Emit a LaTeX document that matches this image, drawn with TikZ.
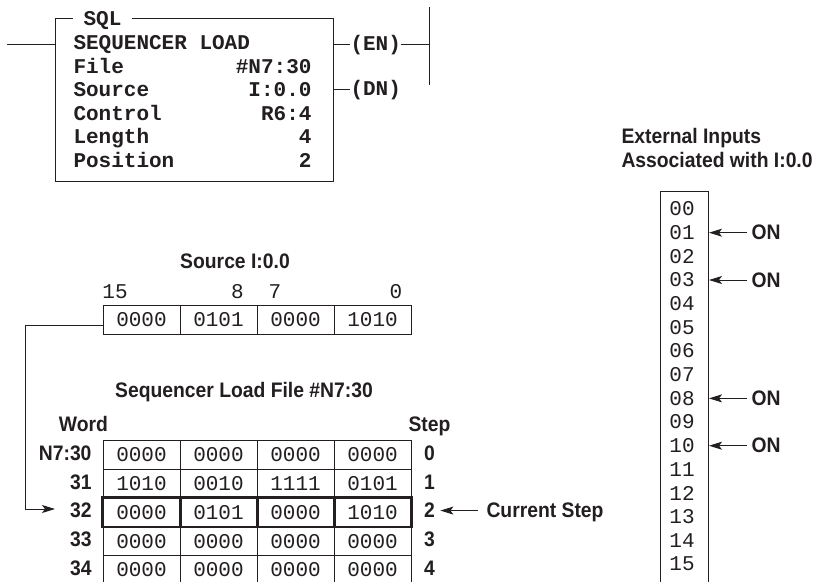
\documentclass[tikz,border=0pt]{standalone}
\usepackage{fontspec}
\setmonofont{Liberation Mono}
\newfontfamily\condb[FakeStretch=0.92]{Liberation Sans}
\usetikzlibrary{arrows.meta,calc}
\definecolor{ink}{HTML}{231F20}
\begin{document}
\begin{tikzpicture}[x=1pt,y=-1pt,line width=1pt,draw=ink,text=ink,
  mb/.style={font=\fontsize{21}{21}\selectfont\ttfamily\bfseries, inner sep=0pt},
  mr/.style={font=\fontsize{21}{21}\selectfont\ttfamily, inner sep=0pt},
  sb/.style={font=\fontsize{21}{21}\selectfont\condb\bfseries, inner sep=0pt},
  cell/.style={draw, minimum width=77pt, minimum height=28.7pt, inner sep=0pt, mr},
  arr/.style={-{Stealth[length=13pt,width=8pt,inset=3pt]}}]
\useasboundingbox (0,0) rectangle (818,581);
\clip (0,0) rectangle (818,581);
\fill[white] (0,0) rectangle (818,581);

% ---- SQL instruction box ----
\node[draw, minimum width=278pt, minimum height=163pt, anchor=north west, inner sep=0pt] (sql) at (55,18) {};
\node[mb, fill=white, inner xsep=10.5pt, anchor=base] (title) at (102.5,25) {SQL};
\foreach \l/\r/\b [count=\i] in {SEQUENCER LOAD//49, File/\#N7:30/73, Source/I:0.0/96, Control/R6:4/120, Length/4/143, Position/2/167}{
  \node[mb, anchor=base west] (L\i) at (73,\b) {\l};
  \node[mb, anchor=base east] (R\i) at (312,\b) {\r};
}
\coordinate (lw) at (7,44);
\draw (lw) -- (sql.west |- lw);
\node[mb, anchor=base west] (en) at (350,50) {(EN)};
\node[mb, anchor=base west] (dn) at (350,95) {(DN)};
\coordinate (railtop) at (429,7);
\coordinate (railbot) at (429,85);
\draw (railtop) -- (railbot);
\draw (sql.east |- en.west) -- (en.west);
\draw (en.east) -- (en.east -| railtop);
\draw (sql.east |- dn.west) -- (dn.west);

% ---- Source I:0.0 ----
\node[sb, anchor=base] (srct) at (235,268) {Source I:0.0};
\node[mr, anchor=base] (b15) at (115,298) {15};
\node[mr, anchor=base] (b8) at (237.5,298) {8};
\node[mr, anchor=base] (b7) at (275,298) {7};
\node[mr, anchor=base] (b0) at (396,298) {0};
\foreach \v [count=\i from 0] in {0000,0101,0000,1010}
  \node[cell] (s\i) at (141.5+77*\i,320) {\v};

% ---- Sequencer load file ----
\node[sb, anchor=base] (filet) at (244,397) {Sequencer Load File \#N7:30};
\node[sb, anchor=base] (word) at (83.5,431) {Word};
\node[sb, anchor=base] (step) at (429.5,431) {Step};
\foreach \row [count=\r from 0] in {{0000,0000,0000,0000},{1010,0010,1111,0101},{0000,0101,0000,1010},{0000,0000,0000,0000},{0000,0000,0000,0000}}{
  \foreach \v [count=\c from 0] in \row
    \node[cell] (t\r\c) at (141.5+77*\c,455+28.7*\r) {\v};
}
\draw[line width=2.4pt] (t20.north west) rectangle (t23.south east);
\foreach \c in {0,1,2}
  \draw[line width=2.4pt] (t2\c.north east) -- (t2\c.south east);
\foreach \l [count=\r from 0] in {N7:30,31,32,33,34}{
  \node[sb, anchor=base east] (w\r) at (92,460.5+28.7*\r) {\l};
  \node[sb, anchor=base] (st\r) at (429.5,460.5+28.7*\r) {\r};
}
\node[sb, anchor=base west] (cur) at (486,517) {Current Step};
\draw[arr] ($(cur.west |- st2.east)+(-8,0)$) -- ($(st2.east)+(5,0)$);

% connector from source to word 32
\coordinate (bend) at (25,509);
\coordinate (tip) at (55,509);
\draw[arr] ([yshift=-5pt]s0.west) -| (bend) -- (tip);

% ---- External inputs ----
\node[sb, anchor=base west] (ext1) at (621,143) {External Inputs};
\node[sb, anchor=base west] (ext2) at (621,167) {Associated with I:0.0};
\node[draw, minimum width=48pt, minimum height=420pt, anchor=north west, inner sep=0pt] (ibox) at (660,191) {};
\foreach \n [count=\i from 0] in {00,01,02,03,04,05,06,07,08,09,10,11,12,13,14,15}
  \node[mr] (in\i) at (682,209+23.67*\i) {\n};
\foreach \i in {1,3,8,10}{
  \node[sb, anchor=west] (on\i) at (751,0 |- in\i) {ON};
  \draw[arr] ($(on\i.west |- in\i)+(-4,0)$) -- (ibox.east |- in\i);
}
\end{tikzpicture}
\end{document}
